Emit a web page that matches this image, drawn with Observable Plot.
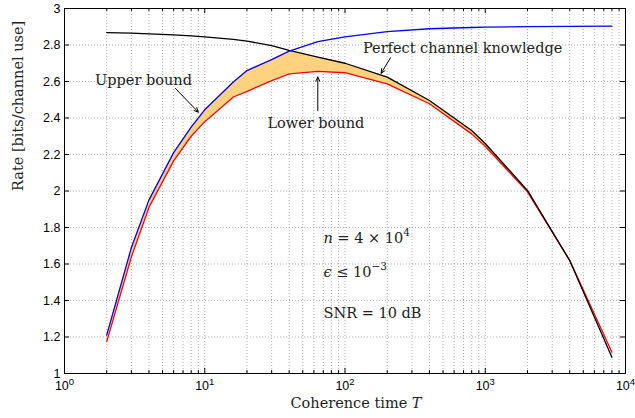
<!DOCTYPE html>
<html><head><meta charset="utf-8">
<script src="https://cdn.jsdelivr.net/npm/d3@7"></script>
<script src="https://cdn.jsdelivr.net/npm/@observablehq/plot@0.6"></script>
<style>body{margin:0;background:#fff} #chart svg{display:block}</style>
</head><body><div id="chart"></div>
<script>
// Coherence time samples
const T       = [2, 3, 4, 6, 8, 10, 16, 20, 30, 40, 64, 100, 200, 400, 800, 1000, 2000, 4000, 8000];
// Perfect channel knowledge (black)
const perfect = [2.868, 2.865, 2.861, 2.856, 2.850, 2.844, 2.831, 2.821, 2.797, 2.770, 2.733, 2.700, 2.624, 2.496, 2.332, 2.260, 2.003, 1.619, 1.089];
// Upper bound (blue)
const upper   = [1.210, 1.690, 1.950, 2.210, 2.350, 2.445, 2.597, 2.660, 2.720, 2.766, 2.818, 2.845, 2.873, 2.889, 2.896, 2.898, 2.901, 2.902, 2.903];
// Lower bound (red)
const lower   = [1.175, 1.640, 1.910, 2.165, 2.300, 2.380, 2.515, 2.546, 2.605, 2.642, 2.655, 2.648, 2.587, 2.478, 2.313, 2.245, 1.995, 1.620, 1.117];

const xTicks = [1, 10, 100, 1000, 10000];
const xTickExp = ["0", "1", "2", "3", "4"];
const xMinorMult = [2, 3, 4, 5, 6, 7, 8, 9];
const xDecades = [1, 10, 100, 1000];
const yTicks = [1, 1.2, 1.4, 1.6, 1.8, 2, 2.2, 2.4, 2.6, 2.8, 3];
const yTickLabels = ["1", "1.2", "1.4", "1.6", "1.8", "2", "2.2", "2.4", "2.6", "2.8", "3"];

const xLabel = "Coherence time T";
const yLabel = "Rate [bits/channel use]";

const labels = [
  {text: "Upper bound", T: 3.66, v: 2.605},
  {text: "Lower bound", T: 62, v: 2.37},
  {text: "Perfect channel knowledge", T: 690, v: 2.782}
];
const arrows = [
  {x1: 6.18, y1: 2.562, x2: 9.0, y2: 2.432},
  {x1: 64, y1: 2.44, x2: 64, y2: 2.625},
  {x1: 211, y1: 2.73, x2: 181, y2: 2.645}
];
const params = [
  {text: "n = 4 × 10^4", T: 70.3, v: 1.740},
  {text: "ϵ ≤ 10^-3", T: 70.3, v: 1.553},
  {text: "SNR = 10 dB", T: 70.3, v: 1.329}
];

const rows = T.map((t, i) => ({T: t, perfect: perfect[i], upper: upper[i], lower: lower[i]}));
const xMinor = xDecades.flatMap(d => xMinorMult.map(m => d * m));

const serif = "'DejaVu Serif', 'Liberation Serif', serif";
const sans = "'Liberation Sans', Arial, sans-serif";
const fs = 14.5;

const majorLenY = 0.028, minorLenY = 0.016, lenX = 1.087;

const plot = Plot.plot({
  width: 635, height: 418,
  marginLeft: 64, marginRight: 10, marginTop: 8, marginBottom: 45,
  style: {fontFamily: sans, fontSize: "12.5px", background: "#fff", color: "#000"},
  x: {type: "log", domain: [1, 10000]},
  y: {domain: [1, 3]},
  marks: [
    Plot.ruleX(xMinor, {stroke: "#999", strokeDasharray: "1,2", strokeWidth: 0.8}),
    Plot.ruleX(xTicks.slice(1, -1), {stroke: "#999", strokeDasharray: "1,2", strokeWidth: 0.8}),
    Plot.ruleY(yTicks.slice(1, -1), {stroke: "#999", strokeDasharray: "1,2", strokeWidth: 0.8}),
    Plot.areaY(rows, {x: "T", y1: "lower", y2: d => Math.max(d.lower, Math.min(d.upper, d.perfect)), fill: "#fed27f", curve: "linear"}),
    Plot.line(rows, {x: "T", y: "lower", stroke: "#ff0000", strokeWidth: 1.3}),
    Plot.line(rows, {x: "T", y: "perfect", stroke: "#000000", strokeWidth: 1.3}),
    Plot.line(rows, {x: "T", y: "upper", stroke: "#0000ff", strokeWidth: 1.3}),
    // inward ticks
    Plot.ruleX(xTicks, {x: d => d, y1: 1, y2: 1 + majorLenY, stroke: "#000"}),
    Plot.ruleX(xTicks, {x: d => d, y1: 3, y2: 3 - majorLenY, stroke: "#000"}),
    Plot.ruleX(xMinor, {x: d => d, y1: 1, y2: 1 + minorLenY, stroke: "#000"}),
    Plot.ruleX(xMinor, {x: d => d, y1: 3, y2: 3 - minorLenY, stroke: "#000"}),
    Plot.ruleY(yTicks, {y: d => d, x1: 1, x2: lenX, stroke: "#000"}),
    Plot.ruleY(yTicks, {y: d => d, x1: 10000, x2: 10000 / lenX, stroke: "#000"}),
    Plot.frame({stroke: "#000", strokeWidth: 1}),
    Plot.axisX(xTicks, {tickSize: 0, tickPadding: 8, tickFormat: d => "10^" + xTickExp[xTicks.indexOf(d)], label: null}),
    Plot.axisY(yTicks, {tickSize: 0, tickPadding: 4, tickFormat: d => yTickLabels[yTicks.indexOf(d)], label: null}),
    Plot.text([xLabel], {frameAnchor: "bottom", dx: 11, dy: 34, fontFamily: serif, fontSize: fs, text: d => d, fill: "#222"}),
    Plot.text([yLabel], {frameAnchor: "left", dx: -46, rotate: -90, fontFamily: serif, fontSize: fs, text: d => d, fill: "#222"}),
    Plot.arrow(arrows, {x1: "x1", y1: "y1", x2: "x2", y2: "y2", stroke: "#000", strokeWidth: 1, headLength: 7, headAngle: 50}),
    Plot.text(labels, {x: "T", y: "v", text: "text", fontFamily: serif, fontSize: fs, fill: "#222"}),
    Plot.text(params, {x: "T", y: "v", text: "text", textAnchor: "start", fontFamily: serif, fontSize: fs, fill: "#222"})
  ]
});

// Typeset superscripts and italics
const fmt = {
  "n = 4 × 10^4": "<tspan font-style='italic'>n</tspan> = 4 × 10<tspan dy='-7' font-size='10.5'>4</tspan>",
  "ϵ ≤ 10^-3": "<tspan font-style='italic'>ϵ</tspan> ≤ 10<tspan dy='-7' font-size='10.5'>−3</tspan>",
  "Coherence time T": "Coherence time <tspan font-style='italic'>T</tspan>"
};
d3.select(plot).selectAll("text").each(function () {
  const t = this.textContent;
  if (fmt[t]) this.innerHTML = fmt[t];
  else if (/^10\^\d$/.test(t)) this.innerHTML = "10<tspan dy='-5' font-size='9.5'>" + t.slice(3) + "</tspan>";
});

document.getElementById("chart").appendChild(plot);
</script>
</body></html>
